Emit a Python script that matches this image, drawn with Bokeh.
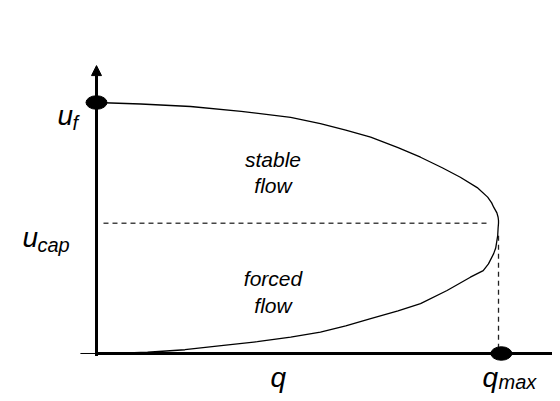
from bokeh.plotting import figure
from bokeh.models import Range1d, Label, Arrow, NormalHead
from bokeh.embed import file_html
from bokeh.resources import INLINE

# ---- data (normalised: q / q_max, u / u_f) ----
q_max = 1.0
u_f = 1.0
u_cap = 0.519

# fundamental diagram curve (upper branch -> nose -> lower branch)
q_curve = [0.0, 0.11, 0.234, 0.36, 0.483, 0.557, 0.62, 0.682, 0.75, 0.806, 0.86, 0.905,
           0.947, 0.973, 0.983, 0.988, 0.996, 0.999, 1.0, 1.0, 0.999, 0.998, 0.996,
           0.993, 0.988, 0.975, 0.962, 0.930, 0.872, 0.806, 0.75, 0.682, 0.62, 0.557,
           0.483, 0.40, 0.316, 0.22, 0.127, 0.06, 0.0]
u_curve = [1.0, 0.994, 0.984, 0.965, 0.941, 0.916, 0.89, 0.862, 0.82, 0.782, 0.74, 0.702,
           0.661, 0.623, 0.60, 0.583, 0.56, 0.543, 0.53, 0.519, 0.50, 0.47, 0.45,
           0.42, 0.398, 0.357, 0.33, 0.304, 0.251, 0.199, 0.17, 0.139, 0.11, 0.085,
           0.065, 0.047, 0.032, 0.015, 0.005, 0.001, 0.0]

FONT = "Liberation Sans"

p = figure(width=552, height=393,
           x_range=Range1d(-0.2388, 1.1343), y_range=Range1d(-0.1594, 1.4064),
           output_backend="svg", toolbar_location=None, min_border=0,
           x_axis_location=None, y_axis_location=None)
p.grid.visible = False
p.outline_line_color = None
p.background_fill_color = "white"
p.border_fill_color = "white"

# axes
p.line([-0.04, 0.0], [0.0, 0.0], line_color="black", line_width=1)
p.line([0.0, 1.25], [0.0, 0.0], line_color="black", line_width=3)
p.add_layout(Arrow(end=NormalHead(size=10, fill_color="black", line_color="black", line_width=1),
                   x_start=0.0, y_start=-0.01, x_end=0.0, y_end=1.147,
                   line_color="black", line_width=3))

# dashed guides
p.line([0.0174, q_max * 0.973], [u_cap, u_cap], line_color="#444444", line_width=1.6, line_dash="5 4")
p.line([q_max, q_max], [u_cap - 0.05, 0.012], line_color="#222222", line_width=1.3, line_dash="5 4")

# curve
p.line(q_curve, u_curve, line_color="black", line_width=1.3, line_join="round")

# dots
p.ellipse(x=[0.0, q_max + 0.007], y=[u_f, 0.0], width=21 / 402, height=13.5 / 251,
          fill_color="black", line_color="black")

def lab(x, y, text, dx, dy, size, align="left", baseline="alphabetic"):
    p.add_layout(Label(x=x, y=y, text=text, x_offset=dx, y_offset=dy,
                       text_font=FONT, text_font_style="italic", text_font_size=size,
                       text_color="black", text_align=align, text_baseline=baseline))

# axis labels
lab(0.0, u_f, "u", -39, -13, "28px")
lab(0.0, u_f, "f", -24, -20, "20px")
lab(0.0, u_cap, "u", -74, -14, "28px")
lab(0.0, u_cap, "cap", -59, -22, "20px")
lab(0.433, 0.0, "q", 0, -24, "28px")
lab(q_max, 0.0, "q", -16, -24, "28px")
lab(q_max, 0.0, "max", 0, -29, "20px")

# region labels
lab(0.439, 0.773, "stable", 0, 0, "21px", "center", "middle")
lab(0.439, 0.669, "flow", 0, 0, "21px", "center", "middle")
lab(0.439, 0.299, "forced", 0, 0, "21px", "center", "middle")
lab(0.439, 0.191, "flow", 0, 0, "21px", "center", "middle")

open("out.html", "w").write(file_html(p, INLINE))
